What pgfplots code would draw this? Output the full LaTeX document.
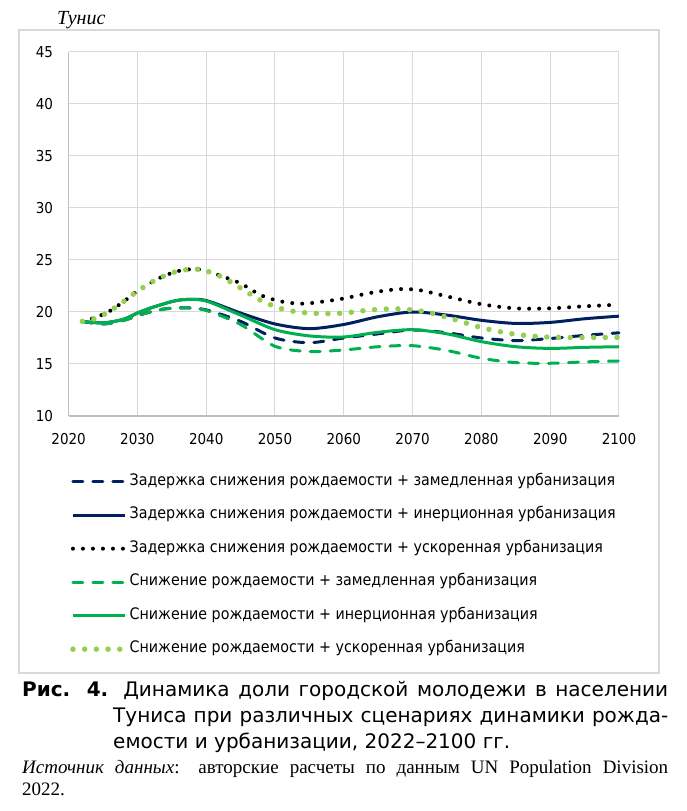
\documentclass[border=0pt]{standalone}
\usepackage{fontspec}
\setmainfont{Liberation Serif}
\newfontfamily\tickfont{DejaVu Sans Condensed}
\newfontfamily\capfont{DejaVu Sans}
\usepackage{pgfplots}
\pgfplotsset{compat=1.18}

\definecolor{navy}{HTML}{002060}
\definecolor{grn}{HTML}{00B050}
\definecolor{lgrn}{HTML}{92D050}
\definecolor{gridc}{HTML}{D9D9D9}
\definecolor{axc}{HTML}{BFBFBF}

\begin{document}
\begin{tikzpicture}[x=1pt,y=1pt]
\path[use as bounding box] (0,0) rectangle (687,811);
\draw[gridc, line width=1.2pt] (19,138) rectangle (659,781);
\node[anchor=base west, inner sep=0pt] at (57,786) {\fontsize{20}{23}\selectfont\textit{Тунис}};
\begin{axis}[
  at={(68.6pt,395pt)}, anchor=south west,
  scale only axis, width=550.4pt, height=364pt,
  xmin=2020, xmax=2100, ymin=10, ymax=45,
  xtick={2020,2030,...,2100}, ytick={10,15,...,45},
  grid=major, major grid style={gridc, line width=1pt},
  axis lines=left,
  axis line style={-, axc, line width=1.2pt},
  major tick length=0pt,
  tick style={draw=none},
  /pgf/number format/assume math mode=true,
  /pgf/number format/1000 sep={},
  ticklabel style={font=\tickfont\fontsize{15}{18}\selectfont, text=black},
  xticklabel style={yshift=-14pt},
  yticklabel style={xshift=-12pt},
  clip=false,
  legend style={at={(axis description cs:0,0)}, anchor=north west,
    xshift=1.4pt, yshift=-58.75pt, draw=none, fill=none, inner sep=0pt,
    font=\tickfont\fontsize{15.85}{18}\selectfont,
    row sep=20pt, column sep=2pt,
    nodes={inner sep=0pt, text height=10.5pt, text depth=3pt},
    cells={anchor=west}},
  legend image code/.code={\draw[#1] (0pt,0pt) -- (52pt,0pt);},
]
% Delay + slow
\addplot[navy, line width=3pt, line cap=round, dash pattern=on 10pt off 10pt, smooth] coordinates {
(2022,19.1) (2025,18.85) (2028,19.2) (2031,19.85) (2034,20.3) (2037,20.4) (2040,20.2) (2045,19.1) (2050,17.5) (2055,17.05) (2060,17.5) (2065,17.9) (2070,18.27) (2075,18.0) (2080,17.5) (2085,17.25) (2090,17.45) (2095,17.75) (2100,18.0)};
\addlegendentry{Задержка снижения рождаемости + замедленная урбанизация}
% Delay + inertial
\addplot[navy, line width=3pt, smooth] coordinates {
(2022,19.1) (2025,18.95) (2028,19.3) (2030,19.9) (2032,20.4) (2035,21.0) (2037,21.2) (2040,21.1) (2045,19.9) (2050,18.85) (2055,18.4) (2060,18.8) (2065,19.55) (2070,20.0) (2075,19.7) (2080,19.2) (2085,18.9) (2090,19.0) (2095,19.35) (2100,19.6)};
\addlegendentry{Задержка снижения рождаемости + инерционная урбанизация}
% Delay + accelerated
\addplot[black, line width=4pt, line cap=round, dash pattern=on 0pt off 10pt, smooth] coordinates {
(2022,19.1) (2024,19.5) (2026,20.1) (2028,21.0) (2030,22.0) (2033,23.2) (2036,23.95) (2039,24.1) (2042,23.5) (2045,22.75) (2048,21.6) (2051,21.0) (2054,20.8) (2057,21.0) (2060,21.3) (2064,21.85) (2068,22.2) (2071,22.1) (2075,21.5) (2080,20.75) (2085,20.35) (2090,20.35) (2095,20.55) (2100,20.7)};
\addlegendentry{Задержка снижения рождаемости + ускоренная урбанизация}
% Reduction + slow
\addplot[grn, line width=3pt, line cap=round, dash pattern=on 10pt off 10pt, smooth] coordinates {
(2022,19.1) (2025,18.85) (2028,19.2) (2031,19.85) (2034,20.3) (2037,20.4) (2040,20.15) (2045,18.8) (2050,16.7) (2055,16.2) (2060,16.35) (2065,16.66) (2070,16.76) (2075,16.3) (2080,15.55) (2085,15.13) (2090,15.07) (2095,15.2) (2100,15.29)};
\addlegendentry{Снижение рождаемости + замедленная урбанизация}
% Reduction + inertial
\addplot[grn, line width=3pt, smooth] coordinates {
(2022,19.1) (2025,18.95) (2028,19.3) (2030,19.9) (2032,20.4) (2035,21.0) (2037,21.2) (2040,21.05) (2045,19.7) (2050,18.3) (2055,17.7) (2060,17.6) (2065,18.05) (2070,18.3) (2075,17.9) (2080,17.15) (2085,16.66) (2090,16.5) (2095,16.6) (2100,16.66)};
\addlegendentry{Снижение рождаемости + инерционная урбанизация}
% Reduction + accelerated
\addplot[lgrn, line width=5.5pt, line cap=round, dash pattern=on 0pt off 11.7pt, smooth] coordinates {
(2022,19.1) (2024,19.4) (2026,20.1) (2028,21.0) (2030,22.0) (2033,23.2) (2036,23.95) (2039,24.1) (2042,23.45) (2045,22.3) (2048,21.1) (2051,20.3) (2054,19.95) (2057,19.85) (2060,19.9) (2064,20.2) (2068,20.3) (2072,20.0) (2076,19.3) (2080,18.5) (2084,17.95) (2088,17.65) (2092,17.55) (2096,17.55) (2100,17.55)};
\addlegendentry{Снижение рождаемости + ускоренная урбанизация}
\end{axis}
\node[anchor=base west, inner sep=0pt] at (22,114.5) {\capfont\fontsize{20}{24}\selectfont\makebox[646pt][s]{\textbf{Рис. 4.} Динамика доли городской молодежи в населении}};
\node[anchor=base west, inner sep=0pt] at (113,88.5) {\capfont\fontsize{20}{24}\selectfont\makebox[555pt][s]{Туниса при различных сценариях динамики рожда-}};
\node[anchor=base west, inner sep=0pt] at (113,62.5) {\capfont\fontsize{20}{24}\selectfont емости и урбанизации, 2022–2100 гг.};
\node[anchor=base west, inner sep=0pt] at (22,37) {\fontsize{19}{22}\selectfont\makebox[646pt][s]{\textit{Источник данных}: авторские расчеты по данным UN Population Division}};
\node[anchor=base west, inner sep=0pt] at (22,15) {\fontsize{19}{22}\selectfont 2022.};
\end{tikzpicture}
\end{document}
